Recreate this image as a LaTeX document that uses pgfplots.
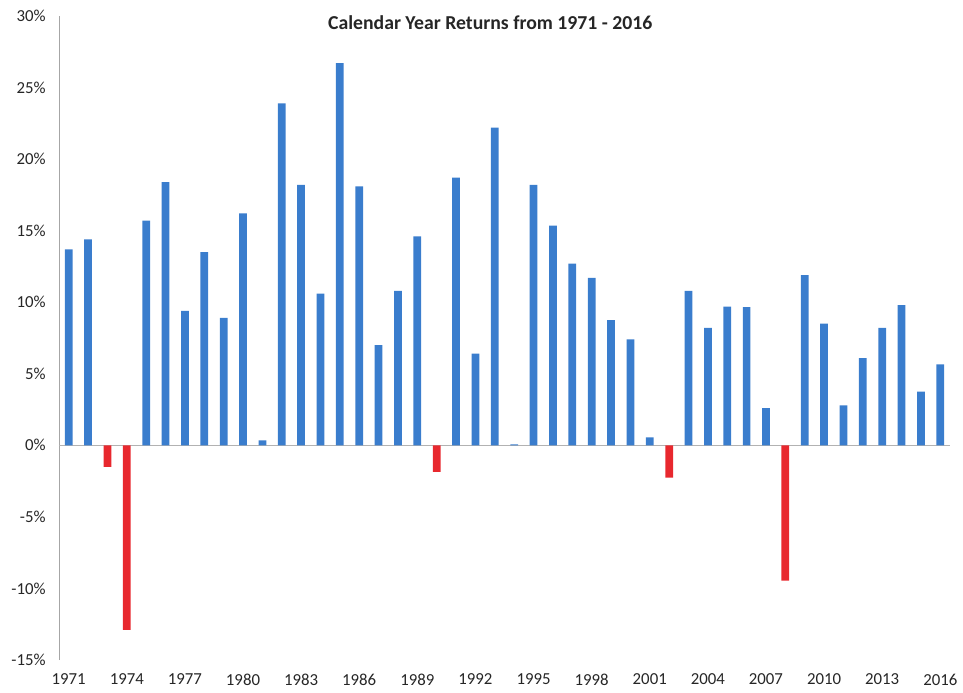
\documentclass[border=0pt]{standalone}
\usepackage{fontspec}
\setmainfont{Carlito}
\usepackage{pgfplots}
\pgfplotsset{compat=1.18}
\definecolor{barBlue}{RGB}{58,125,205}
\definecolor{barRed}{RGB}{232,40,46}

% calendar-year returns, in percent
\pgfplotstableread{
year ret
1971 13.7
1972 14.4
1975 15.7
1976 18.4
1977 9.4
1978 13.5
1979 8.9
1980 16.2
1981 0.35
1982 23.9
1983 18.2
1984 10.6
1985 26.7
1986 18.1
1987 7.0
1988 10.8
1989 14.6
1991 18.7
1992 6.4
1993 22.2
1994 0.06
1995 18.2
1996 15.35
1997 12.7
1998 11.7
1999 8.75
2000 7.4
2001 0.55
2003 10.8
2004 8.2
2005 9.7
2006 9.65
2007 2.6
2009 11.9
2010 8.5
2011 2.8
2012 6.1
2013 8.2
2014 9.8
2015 3.75
2016 5.65
}\posdata
\pgfplotstableread{
year ret
1973 -1.5
1974 -12.9
1990 -1.85
2002 -2.25
2008 -9.45
}\negdata

\begin{document}
\begin{tikzpicture}
\useasboundingbox (-44.25pt,-24pt) rectangle (678pt,495pt);
\begin{axis}[
  at={(0,0)}, anchor=south west,
  scale only axis,
  width=668.25pt, height=483pt,
  xmin=1970.5, xmax=2016.5,
  ymin=-15, ymax=30,
  axis x line*=bottom,
  axis y line*=left,
  x axis line style={draw=none},
  y axis line style={draw=gray!70, line width=0.6pt},
  xtick={1971,1974,...,2016},
  xticklabels={1971,1974,1977,1980,1983,1986,1989,1992,1995,1998,2001,2004,2007,2010,2013,2016},
  ytick={-15,-10,...,30},
  yticklabels={-15\%,-10\%,-5\%,0\%,5\%,10\%,15\%,20\%,25\%,30\%},
  major tick length=0pt,
  tick style={draw=none},
  ticklabel style={font=\fontsize{12.6}{15}\selectfont, text=black!85},
  x tick label style={yshift=-7pt},
  y tick label style={xshift=-6.5pt},
  extra y ticks={0},
  extra y tick labels={},
  extra y tick style={grid=major, major grid style={draw=gray!60, line width=0.5pt}},
  title={Calendar Year Returns from 1971 - 2016},
  title style={at={(0.484,0.978)}, anchor=center,
    font=\bfseries\fontsize{14.8}{17}\selectfont, text=black!85},
  clip=false,
]
  \addplot[ybar, bar width=0.4, bar shift=0pt, fill=barBlue, draw=none]
    table[x=year, y=ret] {\posdata};
  \addplot[ybar, bar width=0.4, bar shift=0pt, fill=barRed, draw=none]
    table[x=year, y=ret] {\negdata};
\end{axis}
\end{tikzpicture}
\end{document}
